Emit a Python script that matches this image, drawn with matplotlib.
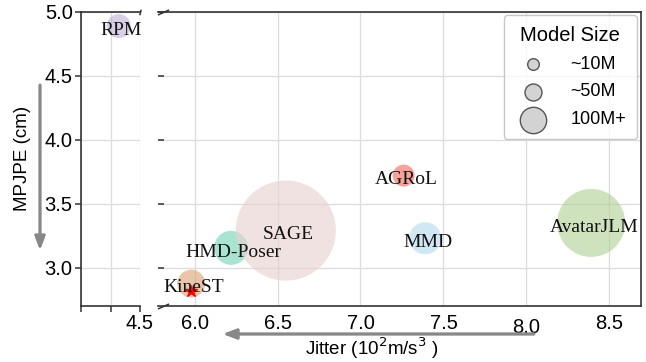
import numpy as np
import matplotlib.pyplot as plt
import matplotlib.transforms as mtransforms

# methods: jitter (10^2 m/s^3), MPJPE (cm), bubble area (model size)
names = ["RPM", "KineST", "HMD-Poser", "SAGE", "AGRoL", "MMD", "AvatarJLM"]
jitter = [4.32, 5.98, 6.22, 6.55, 7.26, 7.39, 8.39]
mpjpe = [4.89, 2.875, 3.155, 3.29, 3.72, 3.23, 3.35]
bubble = [300, 400, 600, 5200, 250, 530, 2400]
colors = ["#c0b1d9", "#daa070", "#70d2b6", "#e9d0d0", "#f26655", "#afd9eb", "#afcf94"]

star_x, star_y = 5.98, 2.815

legend_labels = ["~10M", "~50M", "100M+"]
legend_sizes = [70, 150, 360]

plt.rcParams["font.family"] = ["Liberation Sans", "DejaVu Sans"]
serif = "Liberation Serif"

W, H = 646, 362
fig = plt.figure(figsize=(W / 100, H / 100), dpi=100)
axl = fig.add_axes([81 / W, 56 / H, 59 / W, 294 / H])
axr = fig.add_axes([158 / W, 56 / H, 483 / W, 294 / H])

spine_c = "#333333"
grid_c = "#dcdcdc"

for ax in (axl, axr):
    ax.set_ylim(2.7, 5.0)
    ax.set_yticks([3.0, 3.5, 4.0, 4.5, 5.0])
    ax.grid(True, color=grid_c, lw=0.9)
    ax.set_axisbelow(True)
    for s in ax.spines.values():
        s.set_color(spine_c)
        s.set_linewidth(1.2)

axl.spines["right"].set_visible(False)
axr.spines["left"].set_visible(False)

axl.set_xlim(4.0, 4.5)
axl.set_xticks([4.0, 4.25, 4.5])
axl.set_xticklabels(["", "", "4.5"])
axl.tick_params(axis="both", labelsize=14.5, length=4, width=1.1, color=spine_c, pad=2)

axr.set_xlim(5.78, 8.69)
axr.set_xticks([6.0, 6.5, 7.0, 7.5, 8.0, 8.5])
axr.tick_params(axis="x", labelsize=14.5, length=0, pad=6)
axr.tick_params(axis="y", direction="in", length=4, width=1.1, color=spine_c, labelleft=False)

# bubbles
for n, x, y, s, c in zip(names, jitter, mpjpe, bubble, colors):
    ax = axl if x < 5 else axr
    ax.scatter(x, y, s=s, color=c, alpha=0.6, edgecolors="none", zorder=2, clip_on=False)
    ax.annotate(n, (x, y), xytext=(2, -3), textcoords="offset points",
                ha="center", va="center", fontsize=14, family=serif,
                color="#111111", zorder=4, annotation_clip=False)

axr.plot(star_x, star_y, marker="*", color="red", markersize=9, zorder=3, clip_on=False)

# break marks
axl.plot([1], [1], transform=axl.transAxes, marker=[(-0.25, -1), (0.25, 1)],
         markersize=4, color=spine_c, mec=spine_c, mew=1.1, clip_on=False)
off = mtransforms.ScaledTranslation(5 / 100, 0, fig.dpi_scale_trans)
for yy in (0, 1):
    axr.plot([0], [yy], transform=axr.transAxes + off, marker=[(-1, -0.45), (1, 0.45)],
             markersize=8, color=spine_c, mec=spine_c, mew=1.1, clip_on=False)

# quirky 8.0 label sits a little lower
for lab in axr.get_xticklabels():
    if lab.get_text() == "8.0":
        lab.set_transform(lab.get_transform() +
                          mtransforms.ScaledTranslation(0, -4 / 100, fig.dpi_scale_trans))

# axis labels and arrows
fig.text(23 / W, 1 - 158 / H, "MPJPE (cm)", rotation=90, ha="center", va="center", fontsize=13.5)
fig.text(372 / W, 1 - 348 / H, r"Jitter (10$^2$m/s$^3$ )", ha="center", va="center", fontsize=13.5)

arrow_kw = dict(arrowstyle="-|>,head_length=0.8,head_width=0.3", color="#888888",
                lw=2, mutation_scale=10, shrinkA=0, shrinkB=0)
fig.add_artist(plt.annotate("", xy=(40, H - 250), xytext=(40, H - 85),
                            xycoords="figure pixels", textcoords="figure pixels",
                            arrowprops=arrow_kw))
fig.add_artist(plt.annotate("", xy=(223, H - 334), xytext=(534, H - 334),
                            xycoords="figure pixels", textcoords="figure pixels",
                            arrowprops=arrow_kw))

# legend
handles = [plt.scatter([], [], s=s, color="#d3d3d3", edgecolors="#555555", linewidths=1)
           for s in legend_sizes]
leg = axr.legend(handles, legend_labels, title="Model Size", loc="upper right",
                 bbox_to_anchor=(637 / W, 1 - 15 / H), bbox_transform=fig.transFigure,
                 borderaxespad=0, fontsize=13, title_fontsize=14.5, labelspacing=0.6,
                 borderpad=0.6, handletextpad=1.1, frameon=True, fancybox=True)
leg.get_frame().set_edgecolor("#bbbbbb")
leg.get_frame().set_linewidth(1)

fig.savefig("out.png", dpi=100)
